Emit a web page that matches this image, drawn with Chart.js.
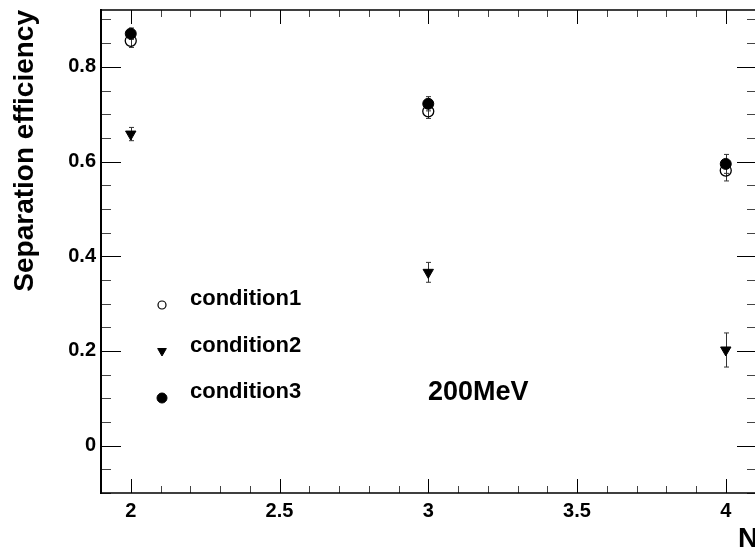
<!DOCTYPE html>
<html><head><meta charset="utf-8">
<script src="https://cdn.jsdelivr.net/npm/chart.js@4/dist/chart.umd.min.js"></script>
<style>html,body{margin:0;padding:0;overflow:hidden;background:#fff;} canvas{display:block;}</style>
</head><body>
<canvas id="c" width="764" height="550"></canvas>
<script>
const xValues = [2, 3, 4];
const condition1 = [0.855, 0.706, 0.581];
const condition1Err = [0.014, 0.015, 0.022];
const condition2 = [0.658, 0.366, 0.202];
const condition2Err = [0.014, 0.021, 0.036];
const condition3 = [0.870, 0.722, 0.595];
const condition3Err = [0.012, 0.015, 0.020];
const seriesNames = ['condition1', 'condition2', 'condition3'];
const xTickValues = [2, 2.5, 3, 3.5, 4];
const xTickLabels = ['2', '2.5', '3', '3.5', '4'];
const yTickValues = [0, 0.2, 0.4, 0.6, 0.8];
const yTickLabels = ['0', '0.2', '0.4', '0.6', '0.8'];
const xTitle = 'N';
const yTitle = 'Separation efficiency';
const annotationText = '200MeV';

const FONT = "'Liberation Sans', Arial, Helvetica, sans-serif";

function pts(ys, errs) {
  return xValues.map((x, i) => ({ x: x, y: ys[i], err: errs[i] }));
}

const styles = [
  { pointStyle: 'circle', radius: 5.5, rotation: 0, bg: 'rgba(0,0,0,0)', bw: 1.3, lr: 4, lbw: 1.2 },
  { pointStyle: 'triangle', radius: 6, rotation: 180, bg: '#000', bw: 1, lr: 5, lbw: 1 },
  { pointStyle: 'circle', radius: 5.5, rotation: 0, bg: '#000', bw: 1, lr: 5, lbw: 1 }
];
const seriesData = [pts(condition1, condition1Err), pts(condition2, condition2Err), pts(condition3, condition3Err)];

const datasets = seriesNames.map((name, i) => ({
  label: name,
  data: seriesData[i],
  showLine: false,
  pointStyle: styles[i].pointStyle,
  pointRadius: styles[i].radius,
  pointHoverRadius: styles[i].radius,
  pointRotation: styles[i].rotation,
  pointBackgroundColor: styles[i].bg,
  pointBorderColor: '#000',
  pointBorderWidth: styles[i].bw,
  order: 2 - i
}));

const errorBars = {
  id: 'errorBars',
  beforeDatasetsDraw(chart) {
    const ctx = chart.ctx, ys = chart.scales.y;
    ctx.save();
    ctx.strokeStyle = '#333';
    ctx.lineWidth = 1;
    chart.data.datasets.forEach((ds, di) => {
      const meta = chart.getDatasetMeta(di);
      meta.data.forEach((el, j) => {
        const d = ds.data[j];
        const x = Math.round(el.x) + 0.5;
        const yt = ys.getPixelForValue(d.y + d.err);
        const yb = ys.getPixelForValue(d.y - d.err);
        ctx.beginPath();
        ctx.moveTo(x, yt); ctx.lineTo(x, yb);
        ctx.moveTo(x - 2.5, yt); ctx.lineTo(x + 2.5, yt);
        ctx.moveTo(x - 2.5, yb); ctx.lineTo(x + 2.5, yb);
        ctx.stroke();
      });
    });
    ctx.restore();
  }
};

const frame = {
  id: 'frame',
  afterDraw(chart) {
    const ctx = chart.ctx, a = chart.chartArea;
    const xs = chart.scales.x, ys = chart.scales.y;
    ctx.save();
    ctx.strokeStyle = '#000';
    const eps = 1e-9;
    for (let k = -2; k <= 18; k++) {
      const v = k * 0.05;
      if (v < ys.min - eps || v > ys.max + eps) continue;
      const major = yTickValues.some(t => Math.abs(t - v) < eps);
      const len = major ? 20 : 10;
      const y = Math.round(ys.getPixelForValue(v)) + 0.5;
      ctx.lineWidth = 1;
      ctx.strokeStyle = major ? '#000' : '#444';
      ctx.beginPath();
      ctx.moveTo(a.left, y); ctx.lineTo(a.left + len, y);
      ctx.moveTo(a.right, y); ctx.lineTo(a.right - len, y);
      ctx.stroke();
    }
    for (let k = 19; k <= 41; k++) {
      const v = k * 0.1;
      if (v < xs.min + eps || v > xs.max - eps) continue;
      const major = xTickValues.some(t => Math.abs(t - v) < eps);
      const len = major ? 14 : 7;
      const x = Math.round(xs.getPixelForValue(v)) + 0.5;
      ctx.lineWidth = 1;
      ctx.strokeStyle = major ? '#000' : '#444';
      ctx.beginPath();
      ctx.moveTo(x, a.bottom); ctx.lineTo(x, a.bottom - len);
      ctx.moveTo(x, a.top); ctx.lineTo(x, a.top + len);
      ctx.stroke();
    }
    ctx.strokeStyle = '#000';
    ctx.lineWidth = 2;
    ctx.beginPath();
    ctx.moveTo(a.left, a.top - 1); ctx.lineTo(a.left, a.bottom + 1);
    ctx.moveTo(a.right, a.top - 1); ctx.lineTo(a.right, a.bottom + 1);
    ctx.stroke();
    ctx.lineWidth = 1.6;
    ctx.beginPath();
    ctx.moveTo(a.left, a.top); ctx.lineTo(a.right, a.top);
    ctx.moveTo(a.left, a.bottom); ctx.lineTo(a.right, a.bottom);
    ctx.stroke();

    ctx.fillStyle = '#000';
    ctx.font = "bold 28px " + FONT;
    ctx.textBaseline = 'alphabetic';
    ctx.textAlign = 'left';
    ctx.fillText(xTitle, 738, 547);
    ctx.save();
    ctx.translate(33, 10);
    ctx.rotate(-Math.PI / 2);
    ctx.textAlign = 'right';
    ctx.fillText(yTitle, 0, 0);
    ctx.restore();

    ctx.font = "bold 27px " + FONT;
    ctx.textAlign = 'left';
    ctx.fillText(annotationText, 428, 400);

    const legendY = [305, 351, 398];
    const textY = [305, 352, 398];
    ctx.font = "bold 22px " + FONT;
    seriesNames.forEach((name, i) => {
      const s = styles[i];
      ctx.fillStyle = s.bg;
      ctx.strokeStyle = '#000';
      ctx.lineWidth = s.lbw;
      Chart.helpers.drawPoint(ctx, { pointStyle: s.pointStyle, radius: s.lr, rotation: s.rotation, borderWidth: s.lbw }, 162, legendY[i]);
      ctx.fillStyle = '#000';
      ctx.fillText(name, 190, textY[i]);
    });
    ctx.restore();
  }
};

new Chart(document.getElementById('c'), {
  type: 'scatter',
  data: { datasets: datasets },
  plugins: [errorBars, frame],
  options: {
    responsive: false,
    animation: false,
    events: [],
    layout: { padding: { left: 0, top: 10, right: 4, bottom: 0 } },
    plugins: { legend: { display: false }, tooltip: { enabled: false } },
    scales: {
      x: {
        type: 'linear', min: 1.9, max: 4.105,
        afterBuildTicks(scale) { scale.ticks = xTickValues.map(v => ({ value: v })); },
        afterFit(scale) { scale.height = 57; scale.paddingLeft = 0; scale.paddingRight = 0; },
        grid: { display: false, drawTicks: false },
        border: { display: false },
        ticks: {
          padding: 6, color: '#000', maxRotation: 0, autoSkip: false,
          font: { family: FONT, size: 20, weight: 'bold' },
          callback: (v) => xTickLabels[xTickValues.indexOf(v)]
        }
      },
      y: {
        type: 'linear', min: -0.1, max: 0.92,
        afterBuildTicks(scale) { scale.ticks = yTickValues.map(v => ({ value: v })); },
        afterFit(scale) { scale.width = 101; scale.paddingTop = 0; scale.paddingBottom = 0; },
        grid: { display: false, drawTicks: false },
        border: { display: false },
        ticks: {
          padding: 5, color: '#000', autoSkip: false,
          font: { family: FONT, size: 20, weight: 'bold' },
          callback: (v) => yTickLabels[yTickValues.indexOf(v)]
        }
      }
    }
  }
});
</script>
</body></html>
